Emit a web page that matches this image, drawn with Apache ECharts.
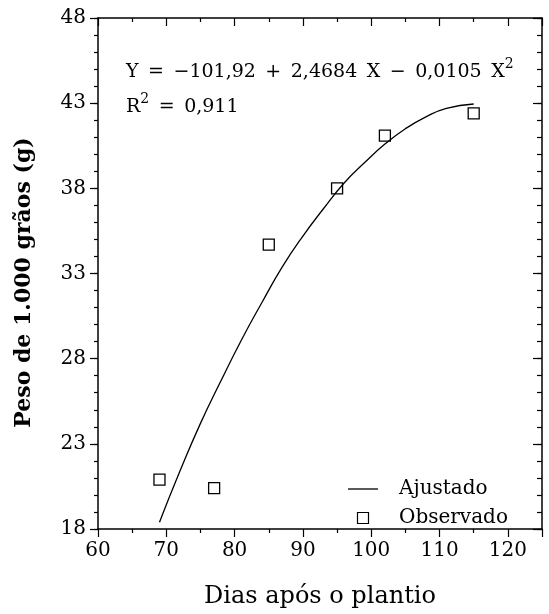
<!DOCTYPE html>
<html>
<head>
<meta charset="utf-8">
<script src="https://cdn.jsdelivr.net/npm/echarts@6/dist/echarts.min.js"></script>
<style>
  html, body { margin: 0; padding: 0; background: #fff; }
  #chart { width: 549px; height: 614px; }
</style>
</head>
<body>
<div id="chart"></div>
<script>
// eixos
var xTicks = [60, 70, 80, 90, 100, 110, 120];
var yTicks = [18, 23, 28, 33, 38, 43, 48];

// observado
var diasObs = [69, 77, 85, 95, 102, 115];
var pesoObs = [20.9, 20.4, 34.7, 38.0, 41.1, 42.4];

// ajustado
var diasAjust = [69, 72, 75, 78, 81, 84, 87, 90, 93, 96, 99, 102, 105, 108, 111, 115];
var pesoAjust = [18.4, 21.4, 24.2, 26.7, 29.1, 31.3, 33.4, 35.2, 36.8, 38.3, 39.5, 40.6, 41.5, 42.2, 42.7, 42.95];

var serif = 'DejaVu Serif';
var black = '#000';
var sp = '\u2002'; // espaço largo, como no original

function pairs(xs, ys) {
    var out = [];
    for (var i = 0; i < xs.length; i++) out.push([xs[i], ys[i]]);
    return out;
}

var chart = echarts.init(document.getElementById('chart'));

var eq1 = ['Y', '=', '−101,92', '+', '2,4684', 'X', '−', '0,0105', 'X'].join(sp);
var eq2 = ['', '=', '0,911'].join(sp);

var option = {
    backgroundColor: '#fff',
    animation: false,
    grid: { left: 98, right: 7, top: 18, bottom: 84 },
    title: {
        left: 121,
        top: 50,
        text: '{t|' + eq1 + '}{sup|2}\n{t|R}{sup|2}{t|' + eq2 + '}',
        textStyle: {
            fontWeight: 'normal',
            rich: {
                t: { fontFamily: serif, fontSize: 19, fontWeight: 'normal', color: black, lineHeight: 35 },
                sup: { fontFamily: serif, fontSize: 14, fontWeight: 'normal', color: black, lineHeight: 35, padding: [0, 0, 17, 0] }
            }
        }
    },
    legend: {
        orient: 'vertical',
        left: 343,
        top: 474,
        itemWidth: 30,
        itemHeight: 11,
        itemGap: 9,
        textStyle: { fontFamily: serif, fontSize: 20, color: black, padding: [0, 0, 0, 16] },
        data: [
            { name: 'Ajustado', icon: 'path://M0,0L30,0L30,1.3L0,1.3Z', itemStyle: { color: black, borderWidth: 0 } },
            { name: 'Observado', icon: 'path://M0,0L10,0L10,10L0,10Z', itemStyle: { color: '#fff', borderColor: black, borderWidth: 1.2 } }
        ]
    },
    xAxis: [{
        type: 'value',
        position: 'bottom',
        min: 60, max: 125, interval: 10,
        name: 'Dias após o plantio',
        nameLocation: 'middle',
        nameGap: 56,
        nameTextStyle: { fontFamily: serif, fontSize: 24, color: black },
        axisLine: { lineStyle: { color: black, width: 1.5 } },
        axisTick: { length: 8, lineStyle: { color: black, width: 1.2 } },
        minorTick: { show: true, splitNumber: 2, length: 4, lineStyle: { color: black, width: 1.2 } },
        axisLabel: { showMaxLabel: false, margin: 12, fontFamily: serif, fontSize: 20, color: black },
        splitLine: { show: false }
    }, {
        type: 'value',
        position: 'top',
        min: 60, max: 125, interval: 10,
        axisLine: { lineStyle: { color: black, width: 1.5 } },
        axisTick: { inside: true, length: 8, lineStyle: { color: black, width: 1.2 } },
        minorTick: { show: true, splitNumber: 2, length: 4, lineStyle: { color: black, width: 1.2 } },
        axisLabel: { show: false },
        splitLine: { show: false }
    }],
    yAxis: [{
        type: 'value',
        position: 'left',
        min: 18, max: 48,
        name: 'Peso de 1.000 grãos (g)',
        nameLocation: 'middle',
        nameGap: 63,
        nameTextStyle: { fontFamily: serif, fontSize: 22, fontWeight: 'bold', color: black, padding: [0, 18, 0, 0] },
        axisLine: { lineStyle: { color: black, width: 1.5 } },
        axisTick: { customValues: yTicks, length: 8, lineStyle: { color: black, width: 1.2 } },
        axisLabel: { customValues: yTicks, margin: 12, fontFamily: serif, fontSize: 20, color: black },
        splitLine: { show: false }
    }, {
        type: 'value',
        position: 'left',
        min: 18, max: 48, interval: 1,
        axisLine: { show: false },
        axisTick: { length: 4, lineStyle: { color: black, width: 1.2 } },
        axisLabel: { show: false },
        splitLine: { show: false }
    }, {
        type: 'value',
        position: 'right',
        min: 18, max: 48, interval: 1,
        axisLine: { show: true, lineStyle: { color: black, width: 1.5 } },
        axisTick: { inside: true, length: 5, lineStyle: { color: black, width: 1.2 } },
        axisLabel: { show: false },
        splitLine: { show: false }
    }, {
        type: 'value',
        position: 'right',
        min: 18, max: 48,
        axisLine: { show: false },
        axisTick: { inside: true, customValues: yTicks, length: 9, lineStyle: { color: black, width: 1.2 } },
        axisLabel: { show: false },
        splitLine: { show: false }
    }],
    series: [{
        name: 'Ajustado',
        type: 'line',
        xAxisIndex: 0, yAxisIndex: 0,
        data: pairs(diasAjust, pesoAjust),
        smooth: true,
        symbol: 'none',
        lineStyle: { color: black, width: 1.3 },
        itemStyle: { color: black }
    }, {
        name: 'Observado',
        type: 'scatter',
        xAxisIndex: 0, yAxisIndex: 0,
        data: pairs(diasObs, pesoObs),
        symbol: 'rect',
        symbolSize: 11,
        itemStyle: { color: '#fff', borderColor: black, borderWidth: 1.3, opacity: 1 }
    }]
};

chart.setOption(option);
</script>
</body>
</html>
